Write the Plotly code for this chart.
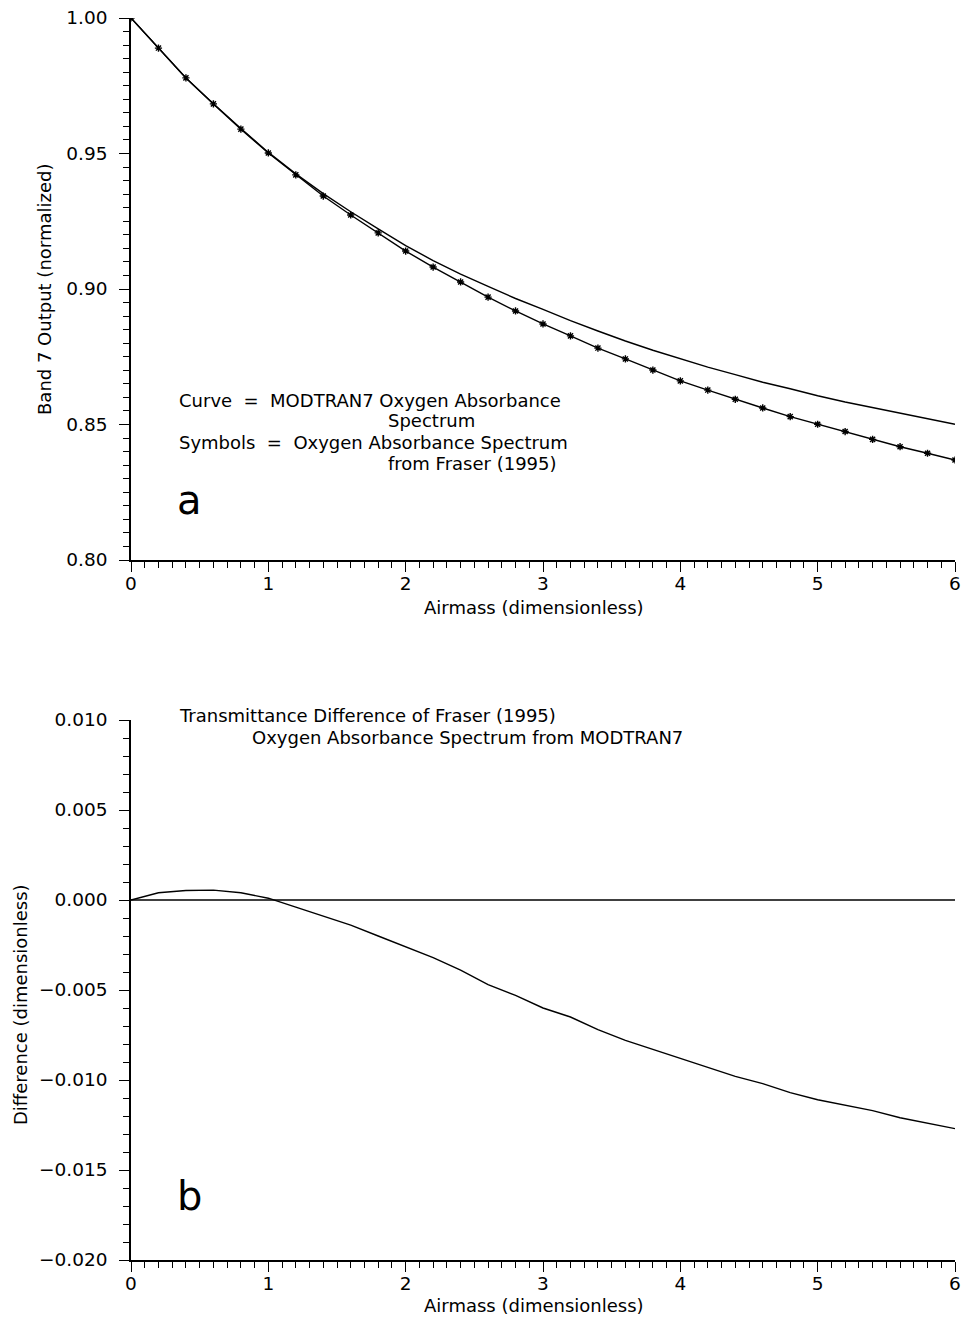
import plotly.graph_objects as go

# ---------------- data ----------------
airmass = [0.0, 0.2, 0.4, 0.6, 0.8, 1.0, 1.2, 1.4, 1.6, 1.8, 2.0, 2.2, 2.4, 2.6, 2.8, 3.0,
           3.2, 3.4, 3.6, 3.8, 4.0, 4.2, 4.4, 4.6, 4.8, 5.0, 5.2, 5.4, 5.6, 5.8, 6.0]

modtran_curve = [1.0000, 0.9889, 0.9779, 0.9684, 0.9592, 0.9504, 0.9425, 0.9352, 0.9285, 0.9222,
                 0.9160, 0.9105, 0.9055, 0.9010, 0.8965, 0.8925, 0.8883, 0.8845, 0.8808, 0.8774,
                 0.8743, 0.8712, 0.8684, 0.8656, 0.8632, 0.8606, 0.8583, 0.8562, 0.8541, 0.8520,
                 0.8501]

fraser_symbols = [1.0000, 0.9889, 0.9779, 0.9683, 0.9590, 0.9502, 0.9421, 0.9343, 0.9273, 0.9207,
                  0.9140, 0.9081, 0.9026, 0.8970, 0.8919, 0.8871, 0.8827, 0.8782, 0.8742, 0.8701,
                  0.8661, 0.8627, 0.8593, 0.8561, 0.8529, 0.8501, 0.8474, 0.8445, 0.8418, 0.8394,
                  0.8369]

difference = [0.0, 0.00040, 0.00053, 0.00055, 0.00040, 0.00010, -0.00040, -0.00090, -0.00140,
              -0.00200, -0.00260, -0.00320, -0.00390, -0.00470, -0.00530, -0.00600, -0.00650,
              -0.00720, -0.00780, -0.00830, -0.00880, -0.00930, -0.00980, -0.01020, -0.01070,
              -0.01110, -0.01140, -0.01170, -0.01210, -0.01240, -0.01270]

x_ticks = [0, 1, 2, 3, 4, 5, 6]
top_y_ticks = [0.80, 0.85, 0.90, 0.95, 1.00]
bot_y_ticks = [-0.020, -0.015, -0.010, -0.005, 0.000, 0.005, 0.010]

# ---------------- layout helpers ----------------
W, H = 963, 1317
FONT = "DejaVu Sans, Verdana, sans-serif"
FS = 18


def px(x):
    return x / W


def py(y):
    return 1 - y / H


fig = go.Figure()

fig.add_trace(go.Scatter(x=airmass, y=modtran_curve, mode="lines",
                         line=dict(color="black", width=1.4),
                         xaxis="x", yaxis="y", showlegend=False))
fig.add_trace(go.Scatter(x=airmass, y=fraser_symbols, mode="lines+markers",
                         line=dict(color="black", width=1.4),
                         marker=dict(symbol="asterisk-open", size=6, color="black",
                                     line=dict(color="black", width=1.4)),
                         xaxis="x", yaxis="y", showlegend=False))
fig.add_trace(go.Scatter(x=airmass, y=difference, mode="lines",
                         line=dict(color="black", width=1.4),
                         xaxis="x2", yaxis="y2", showlegend=False))
fig.add_trace(go.Scatter(x=[airmass[0], airmass[-1]], y=[0, 0], mode="lines",
                         line=dict(color="black", width=1.4),
                         xaxis="x2", yaxis="y2", showlegend=False))

xdom = [px(131), px(955)]
axis_common = dict(showgrid=False, zeroline=False, showline=True, linecolor="black",
                   linewidth=1.5, ticks="outside", tickcolor="black", tickwidth=1.2,
                   ticklen=10, tickfont=dict(family=FONT, size=18.5, color="black"),
                   mirror=False, automargin=False)
minor_common = dict(ticklen=6, ticks="outside", tickcolor="black", tickwidth=1)

fig.update_layout(
    width=W, height=H,
    margin=dict(l=0, r=0, t=0, b=0, autoexpand=False),
    paper_bgcolor="white", plot_bgcolor="white",
    font=dict(family=FONT, color="black"),
    xaxis=dict(domain=xdom, range=[0, 6], tickvals=x_ticks, anchor="y", ticklabelstandoff=-4,
               minor=dict(dtick=0.1, **minor_common), **axis_common),
    yaxis=dict(domain=[py(560), py(18)], range=[0.80, 1.00], tickvals=top_y_ticks,
               tickformat=".2f", anchor="x", ticklabelstandoff=8,
               minor=dict(dtick=0.005, **minor_common), **axis_common),
    xaxis2=dict(domain=xdom, range=[0, 6], tickvals=x_ticks, anchor="y2", ticklabelstandoff=-4,
                minor=dict(dtick=0.1, **minor_common), **axis_common),
    yaxis2=dict(domain=[py(1260), py(720)], range=[-0.020, 0.010], tickvals=bot_y_ticks,
                tickformat=".3f", anchor="x2", ticklabelstandoff=8,
                minor=dict(dtick=0.001, **minor_common), **axis_common),
)


def note(text, x, y, size=FS, xanchor="left", angle=0):
    fig.add_annotation(text=text, x=px(x), y=py(y), xref="paper", yref="paper",
                       xanchor=xanchor, yanchor="middle", showarrow=False, textangle=angle,
                       borderpad=0, font=dict(family=FONT, size=size, color="black"))


# axis titles
note("Airmass (dimensionless)", 534, 607, xanchor="center")
note("Airmass (dimensionless)", 534, 1305, xanchor="center")
note("Band 7 Output (normalized)", 45, 290, xanchor="center", angle=-90)
note("Difference (dimensionless)", 20, 1005, xanchor="center", angle=-90)

# panel a text
note("Curve  =  MODTRAN7 Oxygen Absorbance", 178, 400)
note("Spectrum", 387, 421)
note("Symbols  =  Oxygen Absorbance Spectrum", 178, 442)
note("from Fraser (1995)", 387, 463)
note("a", 176, 500, size=40)

# panel b text
note("Transmittance Difference of Fraser (1995)", 178, 715)
note("Oxygen Absorbance Spectrum from MODTRAN7", 251, 737)
note("b", 176, 1196, size=40)

fig.write_html("out.html", config={"displayModeBar": False})

# remove default page margin so the figure sits at the window origin
with open("out.html", "r", encoding="utf-8") as f:
    html = f.read()
html = html.replace("<body>", '<body style="margin:0;padding:0;overflow:hidden">', 1)
with open("out.html", "w", encoding="utf-8") as f:
    f.write(html)
